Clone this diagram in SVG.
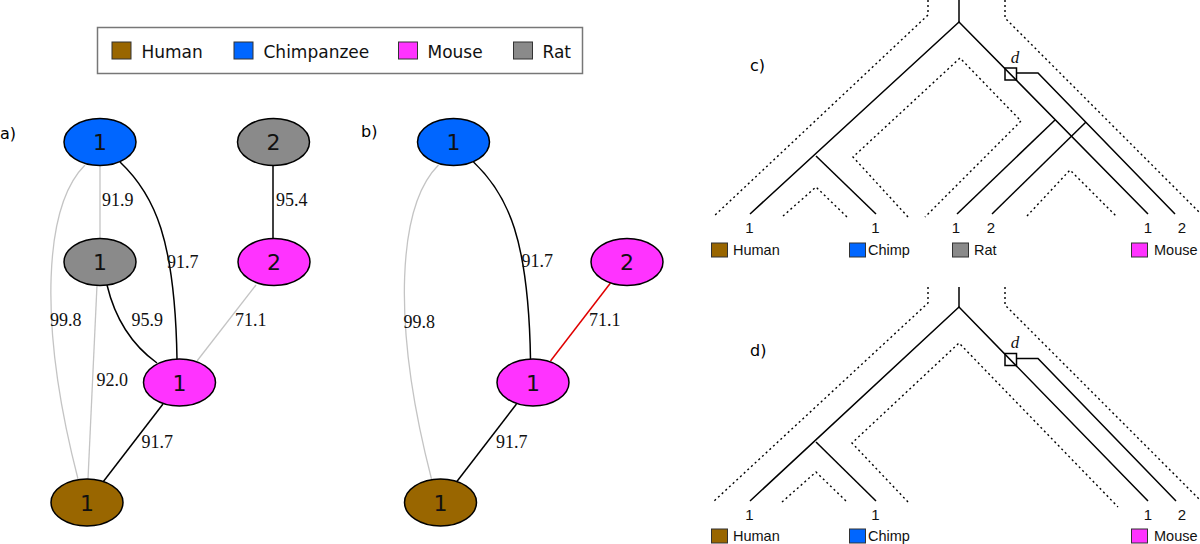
<svg xmlns="http://www.w3.org/2000/svg" width="1200" height="544" viewBox="0 0 1200 544">
<style>
.node ellipse{stroke:#000;stroke-width:1.5}
.nl{font-family:"DejaVu Sans",sans-serif;font-size:22px;text-anchor:middle;fill:#111}
.el{font-family:"Liberation Serif",serif;font-size:18px;fill:#111}
.pl{font-family:"DejaVu Sans",sans-serif;font-size:16px;fill:#000}
.lg{font-family:"DejaVu Sans",sans-serif;font-size:17px;fill:#111}
.tl{font-family:"Liberation Sans",Arial,sans-serif;font-size:14.5px;fill:#111}
.tn{font-family:"Liberation Sans",Arial,sans-serif;font-size:15px;fill:#111;text-anchor:middle}
.blk{stroke:#000;stroke-width:1.5;fill:none}
.gry{stroke:#c4c4c4;stroke-width:1.3;fill:none}
.red{stroke:#e00000;stroke-width:1.5;fill:none}
.sol{stroke:#000;stroke-width:1.5;fill:none}
.dot{stroke:#000;stroke-width:1.4;fill:none;stroke-dasharray:2 3}
.sq{stroke:#333;stroke-width:1}
.hum{fill:#996600}.chi{fill:#0066ff}.mou{fill:#ff33ff}.rat{fill:#8a8a8a}
</style>
<rect width="1200" height="544" fill="#fff"/>

<g id="legend">
<rect x="97.5" y="27.5" width="485" height="46" fill="#fff" stroke="#777" stroke-width="1.5"/>
<rect class="sq hum" x="112" y="42" width="19" height="17"/>
<text class="lg" x="141.5" y="57.5">Human</text>
<rect class="sq chi" x="234" y="42" width="19" height="17"/>
<text class="lg" x="263.5" y="57.5">Chimpanzee</text>
<rect class="sq mou" x="398.5" y="42" width="19" height="17"/>
<text class="lg" x="427.5" y="57.5">Mouse</text>
<rect class="sq rat" x="513.5" y="42" width="19" height="17"/>
<text class="lg" x="542.5" y="57.5">Rat</text>
</g>

<text class="pl" x="0" y="139">a)</text>
<text class="pl" x="361" y="137">b)</text>
<text class="pl" x="750" y="71">c)</text>
<text class="pl" x="750" y="356">d)</text>

<!-- Panel a -->
<g id="a-edges">
<path class="gry" d="M100,165 L100,238"/>
<path class="blk" d="M273,165 L273,238"/>
<path class="blk" d="M120,162 C155,195 175,240 177,359"/>
<path class="blk" d="M107,285 C113,310 125,340 157,363"/>
<path class="gry" d="M97,285 L88,479"/>
<path class="gry" d="M85,165 C45,205 37,320 78,479"/>
<path class="gry" d="M256,285 L197,361"/>
<path class="blk" d="M163,404 L103,482"/>
<text class="el" x="102" y="206">91.9</text>
<text class="el" x="276" y="206">95.4</text>
<text class="el" x="167" y="268">91.7</text>
<text class="el" x="50" y="326">99.8</text>
<text class="el" x="131.5" y="326">95.9</text>
<text class="el" x="235" y="326">71.1</text>
<text class="el" x="96.5" y="386">92.0</text>
<text class="el" x="141.5" y="448">91.7</text>
</g>
<g id="a-chimp1" class="node"><ellipse class="chi" cx="100" cy="142" rx="36" ry="23.5"/><text class="nl" x="100" y="150">1</text></g>
<g id="a-rat2" class="node"><ellipse class="rat" cx="273.5" cy="142" rx="36" ry="23.5"/><text class="nl" x="273.5" y="150">2</text></g>
<g id="a-rat1" class="node"><ellipse class="rat" cx="100" cy="262" rx="36" ry="23.5"/><text class="nl" x="100" y="270">1</text></g>
<g id="a-mouse2" class="node"><ellipse class="mou" cx="274" cy="262" rx="36" ry="23.5"/><text class="nl" x="274" y="270">2</text></g>
<g id="a-mouse1" class="node"><ellipse class="mou" cx="179.5" cy="382.5" rx="36" ry="23.5"/><text class="nl" x="179.5" y="390.5">1</text></g>
<g id="a-human1" class="node"><ellipse class="hum" cx="87" cy="502.5" rx="36" ry="23.5"/><text class="nl" x="87" y="510.5">1</text></g>

<!-- Panel b -->
<g transform="translate(353.5,0)">
<g id="b-edges">
<path class="blk" d="M120,162 C155,195 175,240 177,359"/>
<path class="gry" d="M85,165 C45,205 37,320 78,479"/>
<path class="red" d="M257,283 L197,361"/>
<path class="blk" d="M163,404 L103,482"/>
<text class="el" x="168" y="267">91.7</text>
<text class="el" x="50" y="328">99.8</text>
<text class="el" x="235.5" y="326">71.1</text>
<text class="el" x="142.5" y="448">91.7</text>
</g>
<g id="b-chimp1" class="node"><ellipse class="chi" cx="100" cy="142" rx="36" ry="23.5"/><text class="nl" x="100" y="150">1</text></g>
<g id="b-mouse2" class="node"><ellipse class="mou" cx="273.5" cy="262" rx="36" ry="23.5"/><text class="nl" x="273.5" y="270">2</text></g>
<g id="b-mouse1" class="node"><ellipse class="mou" cx="179.5" cy="382.5" rx="36" ry="23.5"/><text class="nl" x="179.5" y="390.5">1</text></g>
<g id="b-human1" class="node"><ellipse class="hum" cx="87" cy="502.5" rx="36" ry="23.5"/><text class="nl" x="87" y="510.5">1</text></g>
</g>

<!-- Panel c -->
<g id="c-tree">
<path class="dot" d="M928,0 L928,15 L713,217"/>
<path class="dot" d="M1005,0 L1005,18 L1202,215"/>
<path class="dot" d="M908,217 L853,157 L960,58 L1021,121 L925,217"/>
<path class="dot" d="M783,216 L816,187 L847,217"/>
<path class="dot" d="M1027,216 L1070,170 L1117,217"/>
<path class="sol" d="M959,0 L959,22"/>
<path class="sol" d="M750,214 L959,22 L1148,214"/>
<path class="sol" d="M816,156 L876,214"/>
<path class="sol" d="M957,214 L1055,120"/>
<path class="sol" d="M992,214 L1086,122"/>
<rect class="sol" x="1005" y="68" width="11.5" height="12"/>
<path class="sol" d="M1016.5,73 L1038,73 L1175,214"/>
<text x="1015" y="63" font-family="Liberation Serif,serif" font-style="italic" font-size="17" text-anchor="middle" fill="#111">d</text>
<text class="tn" x="749.5" y="233">1</text>
<text class="tn" x="875.5" y="233">1</text>
<text class="tn" x="956" y="233">1</text>
<text class="tn" x="991" y="233">2</text>
<text class="tn" x="1148" y="233">1</text>
<text class="tn" x="1182" y="233">2</text>
</g>
<g id="c-legend">
<rect class="sq hum" x="711.5" y="243" width="16" height="14"/><text class="tl" x="733" y="255">Human</text>
<rect class="sq chi" x="849.5" y="243" width="16" height="14"/><text class="tl" x="868" y="255">Chimp</text>
<rect class="sq rat" x="952.5" y="243" width="16" height="14"/><text class="tl" x="974" y="255">Rat</text>
<rect class="sq mou" x="1131.5" y="243" width="16" height="14"/><text class="tl" x="1154" y="255">Mouse</text>
</g>

<!-- Panel d -->
<g id="d-tree">
<path class="dot" d="M928,287 L928,303 L713,502"/>
<path class="dot" d="M1005,287 L1005,305 L1202,502"/>
<path class="dot" d="M908,502 L852,443 L959,343 L1118,507"/>
<path class="dot" d="M782,502 L816,472 L847,502"/>
<path class="sol" d="M959,287 L959,307"/>
<path class="sol" d="M750,501 L959,307 L1148,501"/>
<path class="sol" d="M816,442 L876,501"/>
<rect class="sol" x="1005" y="353.5" width="11.5" height="12"/>
<path class="sol" d="M1016.5,358.5 L1038,358.5 L1176,501"/>
<text x="1015" y="348" font-family="Liberation Serif,serif" font-style="italic" font-size="17" text-anchor="middle" fill="#111">d</text>
<text class="tn" x="749.5" y="520">1</text>
<text class="tn" x="875.5" y="520">1</text>
<text class="tn" x="1148" y="520">1</text>
<text class="tn" x="1182" y="520">2</text>
</g>
<g id="d-legend">
<rect class="sq hum" x="711.5" y="529" width="16" height="14"/><text class="tl" x="733" y="541">Human</text>
<rect class="sq chi" x="849.5" y="529" width="16" height="14"/><text class="tl" x="868" y="541">Chimp</text>
<rect class="sq mou" x="1131.5" y="529" width="16" height="14"/><text class="tl" x="1154" y="541">Mouse</text>
</g>
</svg>
